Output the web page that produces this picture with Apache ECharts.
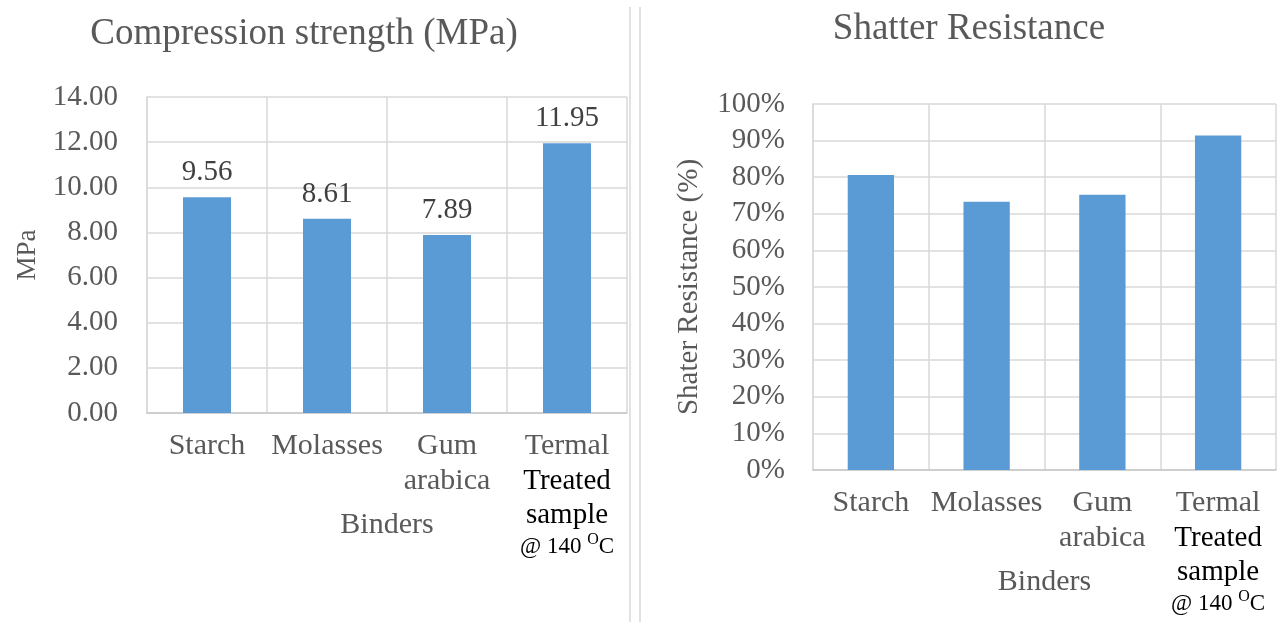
<!DOCTYPE html>
<html>
<head>
<meta charset="utf-8">
<script src="https://cdn.jsdelivr.net/npm/echarts@6/dist/echarts.min.js"></script>
<style>
  html, body { margin: 0; padding: 0; background: #ffffff; }
  #chart { width: 1278px; height: 622px; }
</style>
</head>
<body>
<div id="chart"></div>
<script>
// Binder types tested (shared by both panels)
const categories = ['Starch', 'Molasses', 'Gum arabica', 'Termal Treated sample @ 140 OC'];

// Compression strength per binder, MPa
const compressionMPa = [9.56, 8.61, 7.89, 11.95];

// Shatter resistance per binder, %
const shatterPct = [80.6, 73.3, 75.2, 91.4];

// Axis tick settings
const compressionTicks = { min: 0, max: 14, step: 2 };
const shatterTicks = { min: 0, max: 100, step: 10 };

const SERIF = "'Liberation Serif', 'Times New Roman', serif";
const GREY = '#595959';
const GRID_LINE = '#D9D9D9';
const BAR = '#5B9BD5';

// Builds the multi-line category label: the first word in grey,
// the heat-treatment description in black with a superscript "O".
function categoryLabel(value) {
  const words = value.split(' ');
  if (words[0] === 'Termal') {
    const unit = words[words.length - 1];                      // "OC"
    const temp = words.slice(3, words.length - 1).join(' ');   // "@ 140"
    return '{g|' + words[0] + '}\n{b|' + words[1] + '}\n{b|' + words[2] + '}\n' +
      '{s|' + temp + ' }{sup|' + unit.charAt(0) + '}{s|' + unit.slice(1) + '}';
  }
  return words.map(w => '{g|' + w + '}').join('\n');
}

const richLabel = {
  g:   { fontFamily: SERIF, fontSize: 30, color: GREY, lineHeight: 35 },
  b:   { fontFamily: SERIF, fontSize: 29, color: '#000000', lineHeight: 34 },
  s:   { fontFamily: SERIF, fontSize: 23, color: '#000000', lineHeight: 30 },
  sup: { fontFamily: SERIF, fontSize: 16, color: '#000000', lineHeight: 18, verticalAlign: 'top' }
};

function xAxisFor(gridIndex) {
  return {
    type: 'category',
    gridIndex: gridIndex,
    data: categories,
    name: 'Binders',
    nameLocation: 'middle',
    nameGap: 97,
    nameMoveOverlap: false,
    nameTextStyle: { fontFamily: SERIF, fontSize: 30, color: GREY },
    axisLine: { show: true, lineStyle: { color: '#C8C8C8', width: 1.5 } },
    axisTick: { show: false },
    splitLine: { show: true, lineStyle: { color: GRID_LINE, width: 1.5 } },
    axisLabel: {
      interval: 0,
      hideOverlap: false,
      margin: 16,
      formatter: categoryLabel,
      rich: richLabel
    }
  };
}

const chart = echarts.init(document.getElementById('chart'), null, { renderer: 'canvas' });

chart.setOption({
  animation: false,
  backgroundColor: '#ffffff',
  title: [
    {
      text: 'Compression strength (MPa)',
      left: 299, top: 29,
      textAlign: 'center', textVerticalAlign: 'middle',
      textStyle: { fontFamily: SERIF, fontSize: 37, fontWeight: 'normal', color: GREY }
    },
    {
      text: 'Shatter Resistance',
      left: 964, top: 24,
      textAlign: 'center', textVerticalAlign: 'middle',
      textStyle: { fontFamily: SERIF, fontSize: 37, fontWeight: 'normal', color: GREY }
    }
  ],
  grid: [
    { left: 147, right: 1278 - 627, top: 97, bottom: 622 - 413, outerBoundsMode: 'none', containLabel: false },
    { left: 813, right: 1278 - 1276, top: 104, bottom: 622 - 470, outerBoundsMode: 'none', containLabel: false }
  ],
  xAxis: [xAxisFor(0), xAxisFor(1)],
  yAxis: [
    {
      type: 'value',
      gridIndex: 0,
      min: compressionTicks.min, max: compressionTicks.max, interval: compressionTicks.step,
      name: 'MPa',
      nameLocation: 'middle',
      nameGap: 106,
      nameRotate: 90,
      nameMoveOverlap: false,
      nameTextStyle: { fontFamily: SERIF, fontSize: 27, color: GREY },
      axisLine: { show: true, lineStyle: { color: GRID_LINE, width: 1.5 } },
      axisTick: { show: false },
      splitLine: { show: true, lineStyle: { color: GRID_LINE, width: 1.5 } },
      axisLabel: {
        margin: 29,
        fontFamily: SERIF, fontSize: 29, color: GREY,
        formatter: v => v.toFixed(2)
      }
    },
    {
      type: 'value',
      gridIndex: 1,
      min: shatterTicks.min, max: shatterTicks.max, interval: shatterTicks.step,
      name: 'Shater Resistance (%)',
      nameLocation: 'middle',
      nameGap: 109,
      nameRotate: 90,
      nameMoveOverlap: false,
      nameTextStyle: { fontFamily: SERIF, fontSize: 29, color: GREY },
      axisLine: { show: true, lineStyle: { color: GRID_LINE, width: 1.5 } },
      axisTick: { show: false },
      splitLine: { show: true, lineStyle: { color: GRID_LINE, width: 1.5 } },
      axisLabel: {
        margin: 28,
        fontFamily: SERIF, fontSize: 29, color: GREY,
        formatter: v => v + '%'
      }
    }
  ],
  series: [
    {
      type: 'bar',
      xAxisIndex: 0, yAxisIndex: 0,
      data: compressionMPa,
      barWidth: '40%',
      itemStyle: { color: BAR },
      label: {
        show: true,
        position: 'top',
        distance: 10,
        fontFamily: SERIF, fontSize: 29, color: '#404040',
        formatter: p => p.value.toFixed(2)
      }
    },
    {
      type: 'bar',
      xAxisIndex: 1, yAxisIndex: 1,
      data: shatterPct,
      barWidth: '40%',
      itemStyle: { color: BAR }
    }
  ],
  // double rule separating the two panels
  graphic: [
    { type: 'line', shape: { x1: 630, y1: 7, x2: 630, y2: 622 }, style: { stroke: GRID_LINE, lineWidth: 1.5 } },
    { type: 'line', shape: { x1: 640, y1: 7, x2: 640, y2: 622 }, style: { stroke: GRID_LINE, lineWidth: 1.5 } }
  ]
});
</script>
</body>
</html>
